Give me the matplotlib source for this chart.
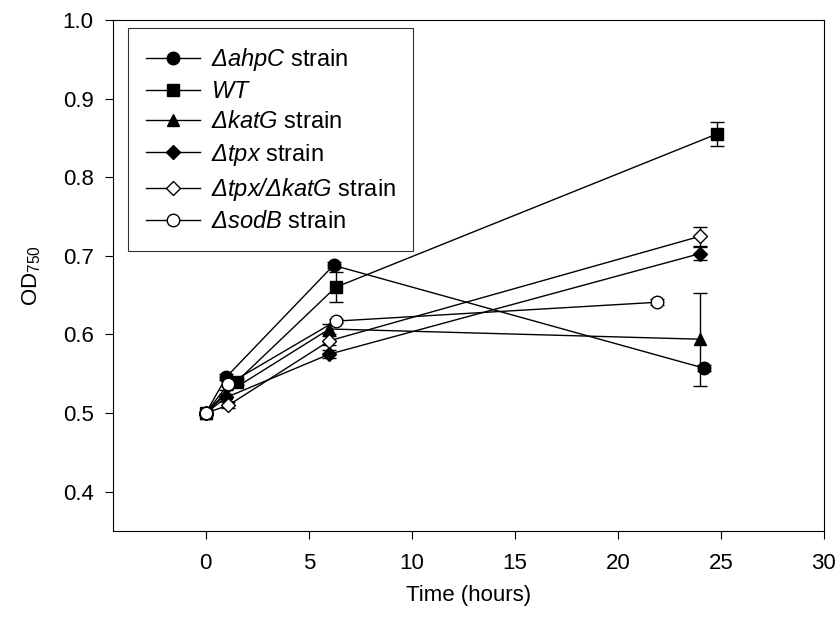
import matplotlib
matplotlib.use('Agg')
from matplotlib import pyplot as plt

plt.rcParams['font.family'] = ['Liberation Sans', 'DejaVu Sans']
plt.rcParams['mathtext.fontset'] = 'custom'
# rm is used for the italic gene names (so the delta is slanted too),
# sf for the upright subscript of the y label
plt.rcParams['mathtext.rm'] = 'Liberation Sans:italic'
plt.rcParams['mathtext.it'] = 'Liberation Sans:italic'
plt.rcParams['mathtext.sf'] = 'Liberation Sans'

# time points (hours), OD750 means and error bars per strain
t_ahpc = [0, 1.0, 6.2, 24.2]
od_ahpc = [0.500, 0.546, 0.688, 0.557]
err_ahpc = [0.002, 0.004, 0.004, 0.004]

t_wt = [0, 1.5, 6.3, 24.8]
od_wt = [0.500, 0.540, 0.660, 0.855]
err_wt = [0.002, 0.004, 0.019, 0.015]

t_katg = [0, 1.0, 6.0, 24.0]
od_katg = [0.500, 0.525, 0.607, 0.594]
err_katg = [0.002, 0.004, 0.006, 0.059]

t_tpx = [0, 1.0, 6.0, 24.0]
od_tpx = [0.500, 0.520, 0.575, 0.703]
err_tpx = [0.002, 0.004, 0.005, 0.008]

t_tpxkatg = [0, 1.1, 6.0, 24.0]
od_tpxkatg = [0.500, 0.510, 0.592, 0.725]
err_tpxkatg = [0.002, 0.004, 0.006, 0.012]

t_sodb = [0, 1.1, 6.3, 21.9]
od_sodb = [0.500, 0.537, 0.617, 0.641]
err_sodb = [0.002, 0.004, 0.003, 0.004]

series = [
  (t_ahpc, od_ahpc, err_ahpc, 'o', 'black', r'$\mathrm{ΔahpC}$ strain'),
  (t_wt, od_wt, err_wt, 's', 'black', r'$\mathrm{WT}$'),
  (t_katg, od_katg, err_katg, '^', 'black', r'$\mathrm{ΔkatG}$ strain'),
  (t_tpx, od_tpx, err_tpx, 'D', 'black', r'$\mathrm{Δtpx}$ strain'),
  (t_tpxkatg, od_tpxkatg, err_tpxkatg, 'D', 'white', r'$\mathrm{Δtpx/ΔkatG}$ strain'),
  (t_sodb, od_sodb, err_sodb, 'o', 'white', r'$\mathrm{ΔsodB}$ strain'),
]
msizes = {'o': 9, 's': 8.5, '^': 9, 'D': 7.5}

fig = plt.figure(figsize=(8.39, 6.2), dpi=100)
ax = fig.add_axes([0.1347, 0.1435, 0.8474, 0.8242])

for t, od, err, mk, fc, lab in series:
  ax.errorbar(t, od, yerr=err, fmt='none', ecolor='black', elinewidth=1,
              capsize=5, capthick=1, zorder=2)
  ax.plot(t, od, color='black', lw=1, marker=mk, markersize=msizes[mk],
          markerfacecolor=fc, markeredgecolor='black', markeredgewidth=1,
          label=lab, zorder=3)

ax.set_xlim(-4.5, 30)
ax.set_ylim(0.35, 1.0)
ax.set_xticks([0, 5, 10, 15, 20, 25, 30])
ax.set_yticks([0.4, 0.5, 0.6, 0.7, 0.8, 0.9, 1.0])
ax.tick_params(direction='out', length=5.5, labelsize=16, top=False, right=False)
ax.tick_params(axis='x', pad=10)
ax.tick_params(axis='y', pad=8.5)
ax.set_xlabel('Time (hours)', fontsize=16, labelpad=8)
ax.set_ylabel(r'OD$_{\mathsf{750}}$', fontsize=16, labelpad=14)

leg = ax.legend(loc='upper left', bbox_to_anchor=(0.021, 0.984), borderaxespad=0,
                fontsize=17, frameon=True, fancybox=False, edgecolor='black',
                handlelength=2.3, labelspacing=0.35, borderpad=0.75,
                handletextpad=0.45)
leg.get_frame().set_linewidth(0.8)

plt.savefig('out.png', dpi=100)
